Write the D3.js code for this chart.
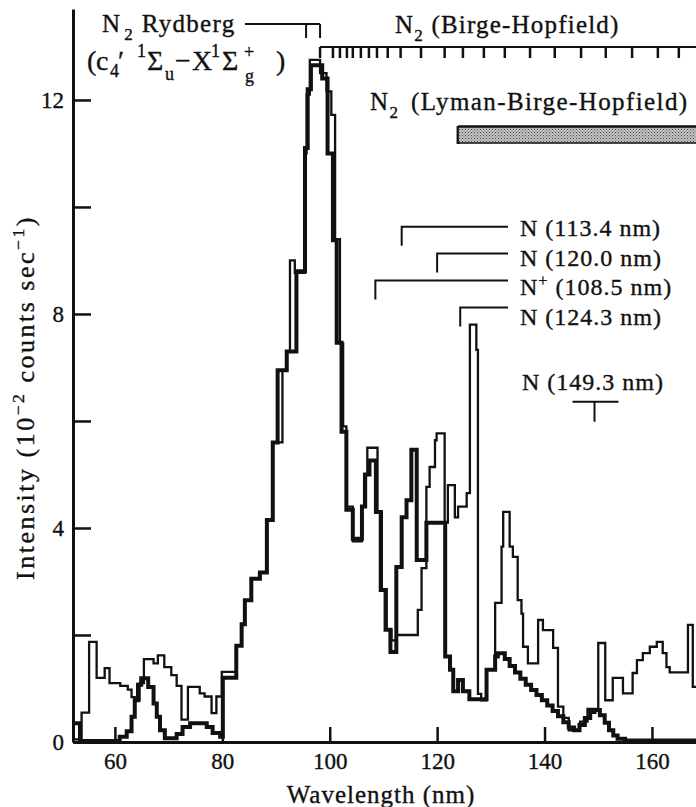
<!DOCTYPE html>
<html>
<head>
<meta charset="utf-8">
<script src="https://cdn.jsdelivr.net/npm/d3@7"></script>
<style>
body { margin: 0; background: #fff; }
svg { display: block; }
text { font-family: "Liberation Serif", "DejaVu Serif", serif; fill: #111; stroke: #111; stroke-width: 0.35; }
</style>
</head>
<body>
<svg id="chart" width="696" height="807"></svg>
<script>
// thin trace: bin edges (nm) and counts per bin (10^-2 counts/s)
const thinEdges = [52.2, 53.8, 55.2, 56.6, 58.1, 59.0, 61.0, 62.4, 63.1, 63.7, 64.6, 65.4, 67.2, 68.0, 69.2, 70.5,
	71.5, 72.4, 73.6, 75.8, 76.7, 78.0, 78.9, 79.9, 82.6, 83.6, 84.2, 85.4, 87.0, 88.3, 89.4, 91.2, 92.0, 92.6,
	93.5, 95.4, 95.7, 96.3, 98.2, 99.4, 100.3, 101.0, 101.9, 102.5, 103.1, 104.3, 106.0, 106.4, 107.0, 108.9,
	109.7, 110.6, 111.5, 112.4, 116.4, 117.1, 118.0, 118.6, 119.6, 119.9, 121.4, 122.0, 123.3, 123.9, 125.5,
	126.1, 127.3, 127.6, 128.2, 129.2, 130.8, 132.0, 132.3, 133.5, 134.1, 135.0, 135.7, 136.0, 136.9, 138.8,
	139.7, 141.6, 142.5, 143.5, 144.5, 146.6, 148.0, 150.0, 151.3, 152.7, 154.6, 156.4, 157.2, 158.3, 159.6,
	160.9, 162.0, 162.7, 163.3, 166.7, 167.6, 169.0];
const thinValues = [0.05, 0.55, 1.87, 1.2, 1.38, 1.1, 1.05, 0.98, 0.84, 0.78, 1.1, 1.55, 1.47, 1.62, 1.4, 1.25,
	1.05, 0.42, 1.03, 0.91, 0.85, 0.54, 0.85, 1.31, 1.8, 2.2, 2.65, 3.05, 3.17, 4.15, 5.6, 6.95, 7.3, 9.0,
	8.77, 11.0, 12.1, 12.75, 12.5, 12.16, 11.72, 9.4, 7.45, 5.9, 4.4, 3.75, 4.4, 5.0, 5.5, 4.3,
	2.85, 2.1, 1.9, 2.0, 2.47, 3.25, 4.77, 5.14, 5.64, 5.77, 4.1, 4.8, 4.2, 4.4, 4.65,
	7.8, 7.33, 0.9, 0.78, 1.35, 2.6, 3.65, 4.3, 3.65, 3.46, 2.65, 2.4, 1.78, 1.47, 2.28,
	2.09, 1.76, 0.66, 0.45, 0.22, 0.38, 0.62, 1.85, 0.78, 1.2, 0.91, 1.29, 1.53, 1.66, 1.78,
	1.87, 1.66, 1.4, 1.3, 2.19, 1.03];

// thick trace
const thickEdges = [52.2, 53.5, 60.9, 62.2, 63.1, 63.7, 64.3, 64.9, 66.2, 67.2, 67.8, 68.4, 69.3, 71.5, 72.6, 74.0,
	77.1, 78.2, 79.6, 80.1, 82.6, 83.6, 84.2, 85.4, 87.0, 88.3, 89.4, 90.3, 92.0, 93.8, 95.4, 95.9, 96.5, 98.6,
	99.6, 100.6, 101.3, 102.2, 103.1, 104.3, 106.0, 106.6, 107.4, 108.6, 109.5, 110.4, 111.3, 112.4, 113.4,
	114.3, 115.2, 116.2, 118.0, 121.5, 122.4, 123.0, 123.9, 124.8, 126.0, 129.2, 130.8, 131.3, 132.6, 133.5,
	134.5, 135.5, 136.5, 137.5, 138.5, 139.5, 140.5, 141.5, 142.5, 143.5, 144.5, 145.5, 146.5, 147.5, 148.5,
	149.3, 150.3, 151.2, 152.0, 152.8, 153.6, 155.0, 169.0];
const thickValues = [0.35, 0.02, 0.1, 0.2, 0.47, 0.78, 1.07, 1.19, 1.03, 0.72, 0.47, 0.22, 0.07, 0.15, 0.28, 0.35,
	0.28, 0.17, 0.1, 1.2, 1.8, 2.2, 2.65, 3.05, 3.17, 4.15, 5.6, 6.95, 7.3, 8.8, 11.1, 12.2, 12.65, 12.4,
	11.0, 9.38, 7.46, 5.8, 4.34, 3.8, 4.4, 5.0, 5.26, 4.3, 2.84, 2.1, 1.68, 3.27, 4.2,
	4.52, 5.46, 3.4, 4.1, 1.6, 1.35, 0.95, 1.16, 0.95, 0.8, 1.35, 1.6, 1.66, 1.55, 1.42,
	1.3, 1.18, 1.07, 0.97, 0.88, 0.78, 0.68, 0.58, 0.48, 0.37, 0.27, 0.22, 0.32, 0.45, 0.56,
	0.6, 0.5, 0.36, 0.22, 0.12, 0.06, 0.03];

const xTicks = [60, 80, 100, 120, 140, 160];
const yTicks = [0, 2, 4, 6, 8, 10, 12];
const yLabels = [0, 4, 8, 12];

// band / line markers (nm)
const rydbergBands = [95.6, 98.2];
const birgeHopfieldBands = [98.2, 100.6, 101.9, 103.2, 104.3, 105.8, 107.3, 108.8, 110.8, 113.2, 117.0,
	121.4, 124.8, 128.7, 132.6, 137.3, 141.9, 146.8, 151.4, 156.3, 161.1, 165.0, 169.0];
const lbhStart = 123.9;
const atomLines = [113.4, 120.0, 108.5, 124.3];
const atomNames = ['N', 'N', 'N+', 'N'];
const isolatedLine = 149.3;

const svg = d3.select('#chart');
const x = d3.scaleLinear([52.2, 168.2], [73, 696]);
const y = d3.scaleLinear([0, 13.7], [742, 9]);

const ink = '#111';

function steps(edges, values) {
	const pts = values.map((v, i) => [edges[i], v]);
	pts.push([edges[edges.length - 1], values[values.length - 1]]);
	return pts;
}

const line = d3.line()
	.x(d => x(d[0]))
	.y(d => y(d[1]))
	.curve(d3.curveStepAfter);

svg.append('defs').append('clipPath').attr('id', 'plot')
	.append('rect').attr('x', 73).attr('y', 0).attr('width', 623).attr('height', 745);

svg.append('path')
	.datum(steps(thickEdges, thickValues))
	.attr('clip-path', 'url(#plot)')
	.attr('fill', 'none')
	.attr('stroke', ink)
	.attr('stroke-width', 4)
	.attr('d', line);

svg.append('path')
	.datum(steps(thinEdges, thinValues))
	.attr('clip-path', 'url(#plot)')
	.attr('fill', 'none')
	.attr('stroke', ink)
	.attr('stroke-width', 2.3)
	.attr('d', line);

// axes
const yAxis = svg.append('g')
	.attr('transform', 'translate(' + x(52.2) + ',0)')
	.call(d3.axisLeft(y).tickValues(yTicks).tickSize(-18).tickSizeOuter(0).tickPadding(9)
		.tickFormat(d => yLabels.includes(d) ? d : ''));
const xAxis = svg.append('g')
	.attr('transform', 'translate(0,' + y(0) + ')')
	.call(d3.axisBottom(x).tickValues(xTicks).tickSize(-15).tickSizeOuter(0).tickPadding(11));

[yAxis, xAxis].forEach(g => {
	g.attr('font-family', null).attr('font-size', 23);
	g.select('.domain').attr('stroke', ink).attr('stroke-width', 3);
	g.selectAll('.tick line').attr('stroke', ink).attr('stroke-width', 2.5);
	g.selectAll('.tick text').attr('fill', ink);
});

// text with sub/superscript pieces: [text, 'sub'|'sup'|null, dx]
function rich(px, py, parts, size, spacing) {
	const t = svg.append('text').attr('x', px).attr('y', py)
		.attr('font-size', size).attr('letter-spacing', spacing || 0);
	let shift = 0;
	parts.forEach(p => {
		const want = p[1] === 'sub' ? size * 0.3 : p[1] === 'sup' ? -size * 0.38 : 0;
		const s = t.append('tspan').text(p[0]).attr('dy', want - shift);
		if (p[2]) s.attr('dx', p[2]);
		if (p[1]) s.attr('font-size', size * 0.68);
		shift = want;
	});
	return t;
}

rich(381, 803, [['Wavelength (nm)']], 25, 1).attr('text-anchor', 'middle');
rich(0, 0, [['Intensity (10'], ['\u22122', 'sup'], [' counts sec'], ['\u22121', 'sup'], [')']], 26, 2.5)
	.attr('transform', 'translate(34,580) rotate(-90)');

// N2 Rydberg
rich(102, 32, [['N'], ['2', 'sub', 3], [' Rydberg']], 25, 1.3);
const term = [
	['(', 87, 70, 28], ['c', 96, 70, 28], ['4', 110, 77, 18], ['\u2032', 118, 70, 28],
	['1', 137, 57, 18], ['\u03a3', 147, 70, 28], ['u', 165, 80, 18], ['\u2212', 175, 70, 28],
	['X', 192, 70, 28], ['1', 211, 57, 18], ['\u03a3', 222, 70, 28], ['g', 245, 82, 18],
	['+', 244, 58, 18], [')', 276, 70, 28]
];
term.forEach(d => svg.append('text').attr('x', d[1]).attr('y', d[2]).attr('font-size', d[3]).text(d[0]));

const marks = svg.append('g').attr('stroke', ink).attr('stroke-width', 2).attr('fill', 'none');
marks.append('line').attr('x1', 245).attr('x2', x(d3.max(rydbergBands))).attr('y1', 24).attr('y2', 24);
rydbergBands.forEach(b => marks.append('line').attr('x1', x(b)).attr('x2', x(b)).attr('y1', 24).attr('y2', 38));

// N2 Birge-Hopfield
rich(395, 33, [['N'], ['2', 'sub'], [' (Birge-Hopfield)']], 25, 1.2);
marks.append('line').attr('x1', x(birgeHopfieldBands[0])).attr('x2', 696).attr('y1', 47).attr('y2', 47);
birgeHopfieldBands.forEach(b => marks.append('line').attr('x1', x(b)).attr('x2', x(b)).attr('y1', 47).attr('y2', 58)
	.attr('stroke-width', 2.5));

// N2 Lyman-Birge-Hopfield
rich(370, 110, [['N'], ['2', 'sub'], [' (Lyman-Birge-Hopfield)', null, 4]], 25, 1.4);
const pat = svg.select('defs').append('pattern').attr('id', 'dots')
	.attr('width', 3).attr('height', 3).attr('patternUnits', 'userSpaceOnUse');
pat.append('rect').attr('width', 3).attr('height', 3).attr('fill', '#c4c4c4');
pat.append('rect').attr('width', 1).attr('height', 1).attr('fill', '#444');
pat.append('rect').attr('x', 1.5).attr('y', 1.5).attr('width', 1).attr('height', 1).attr('fill', '#666');
svg.append('rect').attr('x', x(lbhStart)).attr('y', 127).attr('width', 700 - x(lbhStart)).attr('height', 16)
	.attr('fill', 'url(#dots)').attr('stroke', ink).attr('stroke-width', 1.5);
marks.append('line').attr('x1', x(lbhStart)).attr('x2', x(lbhStart)).attr('y1', 126).attr('y2', 144).attr('stroke-width', 3);
marks.append('line').attr('x1', x(lbhStart)).attr('x2', 696).attr('y1', 126.5).attr('y2', 126.5).attr('stroke-width', 2.5);

// atomic lines
atomLines.forEach((wl, i) => {
	const ly = 226.7 + i * 26.9;
	marks.append('path')
		.attr('d', 'M508,' + ly + 'H' + x(wl) + 'V' + (ly + 19));
	const parts = atomNames[i] === 'N+'
		? [['N'], ['+', 'sup'], [' (' + wl.toFixed(1) + ' nm)']]
		: [['N'], [' (' + wl.toFixed(1) + ' nm)']];
	rich(520, 236 + i * 29.7, parts, 24, 1);
});
rich(522, 390, [['N (' + isolatedLine.toFixed(1) + ' nm)']], 24, 1);
marks.append('path')
	.attr('d', 'M' + (x(isolatedLine) - 22) + ',401.7H' + (x(isolatedLine) + 24) +
		'M' + x(isolatedLine) + ',401.7V421.7');
</script>
</body>
</html>
